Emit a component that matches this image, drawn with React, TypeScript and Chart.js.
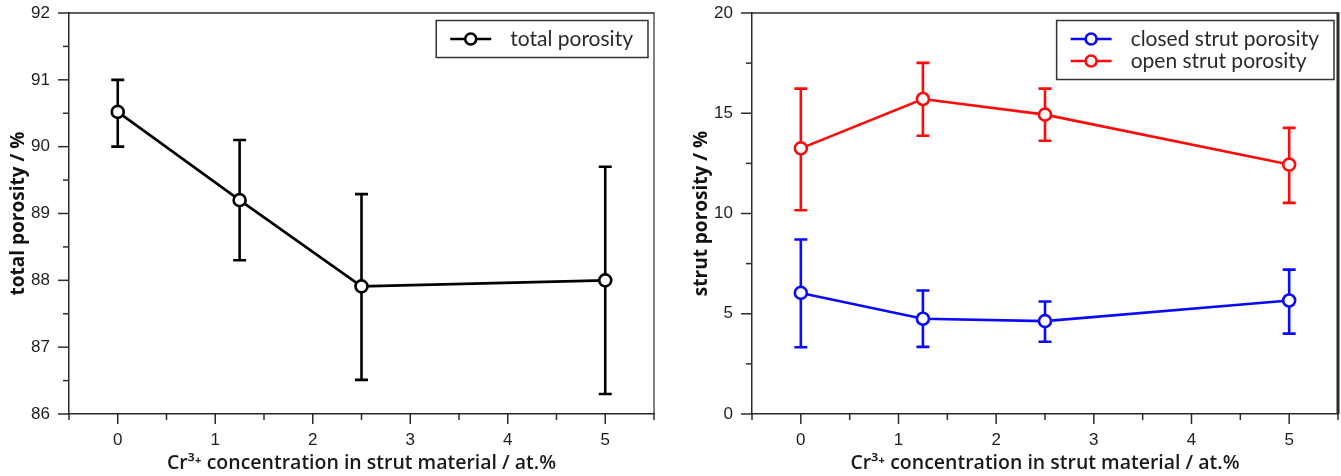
import React, { useEffect, useRef } from 'react';
import { Chart, registerables } from 'chart.js';

Chart.register(...registerables);

// ---- data ----
const concentrations = [0, 1.25, 2.5, 5];

const totalPorosity = [90.52, 89.2, 87.91, 88.0];
const totalPorosityUpper = [91.0, 90.1, 89.29, 89.7];
const totalPorosityLower = [90.0, 88.3, 86.51, 86.3];

const closedStrutPorosity = [6.04, 4.75, 4.63, 5.66];
const closedStrutUpper = [8.7, 6.16, 5.61, 7.2];
const closedStrutLower = [3.33, 3.35, 3.6, 4.01];

const openStrutPorosity = [13.25, 15.71, 14.93, 12.44];
const openStrutUpper = [16.23, 17.51, 16.23, 14.27];
const openStrutLower = [10.16, 13.88, 13.63, 10.53];

const xTickLabels = [0, 1, 2, 3, 4, 5];
const leftYTickLabels = [86, 87, 88, 89, 90, 91, 92];
const rightYTickLabels = [0, 5, 10, 15, 20];

const xTitle = 'Cr³⁺ concentration in strut material / at.%';
const leftYTitle = 'total porosity / %';
const rightYTitle = 'strut porosity / %';

const TICK_FONT = { family: "'Liberation Sans', Arial, sans-serif", size: 17 };
const AXIS_COLOR = '#2b2b2b';

const toPoints = (ys: number[]) => concentrations.map((x, i) => ({ x, y: ys[i] }));

// ---- plugins ----
const errorBarPlugin = {
  id: 'errorBars',
  beforeDatasetsDraw(chart: any) {
    const { ctx } = chart;
    const xs = chart.scales.x;
    const ys = chart.scales.y;
    chart.data.datasets.forEach((ds: any) => {
      ctx.save();
      ctx.strokeStyle = ds.borderColor;
      ctx.lineWidth = 2.6;
      ds.data.forEach((p: any, i: number) => {
        const x = xs.getPixelForValue(p.x);
        const yt = ys.getPixelForValue(ds.upper[i]);
        const yb = ys.getPixelForValue(ds.lower[i]);
        ctx.beginPath();
        ctx.moveTo(x, yt);
        ctx.lineTo(x, yb);
        ctx.moveTo(x - 6.5, yt);
        ctx.lineTo(x + 6.5, yt);
        ctx.moveTo(x - 6.5, yb);
        ctx.lineTo(x + 6.5, yb);
        ctx.stroke();
      });
      ctx.restore();
    });
  },
};

const axisDecorPlugin = {
  id: 'axisDecor',
  afterDraw(chart: any, _args: any, opts: any) {
    const { ctx, chartArea: a } = chart;
    ctx.save();
    ctx.strokeStyle = AXIS_COLOR;
    ctx.lineWidth = 1.5;
    ctx.beginPath();
    ctx.moveTo(a.left, a.top);
    ctx.lineTo(a.right, a.top);
    ctx.stroke();
    ctx.lineWidth = opts.rightWidth;
    ctx.beginPath();
    ctx.moveTo(a.right, a.top - 0.75);
    ctx.lineTo(a.right, a.bottom);
    ctx.stroke();
    ctx.lineWidth = 1.5;
    const xs = chart.scales.x;
    xs.ticks.forEach((t: any) => {
      const px = xs.getPixelForValue(t.value);
      const major = xTickLabels.includes(t.value);
      ctx.beginPath();
      ctx.moveTo(px, a.bottom);
      ctx.lineTo(px, a.bottom + (major ? 10 : 6));
      ctx.stroke();
    });
    const ys = chart.scales.y;
    ys.ticks.forEach((t: any) => {
      const py = ys.getPixelForValue(t.value);
      const major = opts.yMajor.includes(t.value);
      ctx.beginPath();
      ctx.moveTo(a.left, py);
      ctx.lineTo(a.left - (major ? 11 : 6), py);
      ctx.stroke();
    });
    ctx.restore();
  },
};

const boxLegendPlugin = {
  id: 'boxLegend',
  afterDraw(chart: any, _args: any, opts: any) {
    const { ctx, chartArea: a } = chart;
    const items = chart.data.datasets;
    ctx.save();
    ctx.font = "21px Lato, 'Open Sans', sans-serif";
    const tw = Math.max(...items.map((d: any) => ctx.measureText(d.label).width));
    const w = 14 + 41 + 19 + tw + 15;
    const h = items.length * 22 + 15;
    const x0 = a.right - opts.inset - w;
    const y0 = a.top + 7.5;
    ctx.strokeStyle = '#333';
    ctx.lineWidth = 1.5;
    ctx.strokeRect(x0, y0, w, h);
    items.forEach((d: any, i: number) => {
      const cy = y0 + 7.5 + 11 + i * 22;
      ctx.strokeStyle = d.borderColor;
      ctx.lineWidth = 2.6;
      ctx.beginPath();
      ctx.moveTo(x0 + 14, cy);
      ctx.lineTo(x0 + 55, cy);
      ctx.stroke();
      ctx.beginPath();
      ctx.arc(x0 + 34.5, cy, 5.5, 0, Math.PI * 2);
      ctx.fillStyle = '#fff';
      ctx.fill();
      ctx.stroke();
      ctx.fillStyle = '#2a2a2a';
      ctx.textBaseline = 'middle';
      ctx.textAlign = 'left';
      ctx.fillText(d.label, x0 + 74, cy);
    });
    ctx.restore();
  },
};

function makeDataset(label: string, values: number[], upper: number[], lower: number[], color: string) {
  return {
    label,
    data: toPoints(values),
    upper,
    lower,
    borderColor: color,
    backgroundColor: color,
    borderWidth: 2.6,
    pointRadius: 6,
    pointBorderWidth: 2.6,
    pointBackgroundColor: '#fff',
    pointBorderColor: color,
    tension: 0,
    clip: false,
  };
}

function makeConfig(opts: {
  datasets: any[];
  yMin: number;
  yMax: number;
  yStep: number;
  yLabels: number[];
  yTitle: string;
  yWidth: number;
  yTitlePad: number;
  padRight: number;
  legendInset: number;
  rightWidth: number;
}): any {
  return {
    type: 'line',
    data: { datasets: opts.datasets },
    plugins: [errorBarPlugin, axisDecorPlugin, boxLegendPlugin],
    options: {
      animation: false,
      responsive: false,
      devicePixelRatio: 1,
      layout: { autoPadding: false, padding: { left: 0, top: 13, right: opts.padRight, bottom: 0 } },
      plugins: {
        legend: { display: false },
        tooltip: { enabled: false },
        axisDecor: { rightWidth: opts.rightWidth, yMajor: opts.yLabels },
        boxLegend: { inset: opts.legendInset },
      },
      scales: {
        x: {
          type: 'linear',
          min: -0.5,
          max: 5.5,
          ticks: {
            stepSize: 0.5,
            autoSkip: false,
            maxRotation: 0,
            padding: 0,
            color: '#1e1e1e',
            font: TICK_FONT,
            callback: (v: number) => (xTickLabels.includes(v) ? String(v) : ''),
          },
          grid: { display: true, drawOnChartArea: false, drawTicks: true, tickLength: 16, tickColor: 'rgba(0,0,0,0)' },
          border: { display: true, color: AXIS_COLOR, width: 1.5 },
          title: {
            display: true,
            text: xTitle,
            color: '#1a1a1a',
            font: { family: "'Open Sans', sans-serif", size: 19.5, weight: '600' },
            padding: { top: 0, bottom: 1 },
          },
          afterFit: (s: any) => {
            s.height = 62;
            s.paddingLeft = 0;
            s.paddingRight = 0;
          },
        },
        y: {
          min: opts.yMin,
          max: opts.yMax,
          ticks: {
            stepSize: opts.yStep,
            autoSkip: false,
            padding: 0,
            color: '#1e1e1e',
            font: TICK_FONT,
            callback: (v: number) => (opts.yLabels.includes(v) ? String(v) : ''),
          },
          grid: { display: true, drawOnChartArea: false, drawTicks: true, tickLength: 19, tickColor: 'rgba(0,0,0,0)' },
          border: { display: true, color: AXIS_COLOR, width: 1.5 },
          title: {
            display: true,
            text: opts.yTitle,
            color: '#111',
            font: { family: "'Open Sans', sans-serif", size: 19, weight: 'bold' },
            padding: { top: opts.yTitlePad, bottom: 0 },
          },
          afterFit: (s: any) => {
            s.width = opts.yWidth;
          },
        },
      },
    },
  };
}

export default function App() {
  const leftRef = useRef<HTMLCanvasElement>(null);
  const rightRef = useRef<HTMLCanvasElement>(null);

  useEffect(() => {
    const left = new Chart(
      leftRef.current as HTMLCanvasElement,
      makeConfig({
        datasets: [makeDataset('total porosity', totalPorosity, totalPorosityUpper, totalPorosityLower, '#000000')],
        yMin: 86,
        yMax: 92,
        yStep: 0.5,
        yLabels: leftYTickLabels,
        yTitle: leftYTitle,
        yWidth: 69,
        yTitlePad: 7.5,
        padRight: 26,
        legendInset: 6,
        rightWidth: 1.2,
      })
    );
    const right = new Chart(
      rightRef.current as HTMLCanvasElement,
      makeConfig({
        datasets: [
          makeDataset('closed strut porosity', closedStrutPorosity, closedStrutUpper, closedStrutLower, '#0a0aff'),
          makeDataset('open strut porosity', openStrutPorosity, openStrutUpper, openStrutLower, '#ff0a0a'),
        ],
        yMin: 0,
        yMax: 20,
        yStep: 2.5,
        yLabels: rightYTickLabels,
        yTitle: rightYTitle,
        yWidth: 72,
        yTitlePad: 10,
        padRight: 3,
        legendInset: 4,
        rightWidth: 3,
      })
    );
    return () => {
      left.destroy();
      right.destroy();
    };
  }, []);

  return (
    <div style={{ position: 'fixed', left: 0, top: 0, width: 1341, height: 476, background: '#fff' }}>
      <canvas ref={leftRef} width={680} height={476} style={{ position: 'absolute', left: 0, top: 0, width: 680, height: 476 }} />
      <canvas ref={rightRef} width={661} height={476} style={{ position: 'absolute', left: 680, top: 0, width: 661, height: 476 }} />
    </div>
  );
}
